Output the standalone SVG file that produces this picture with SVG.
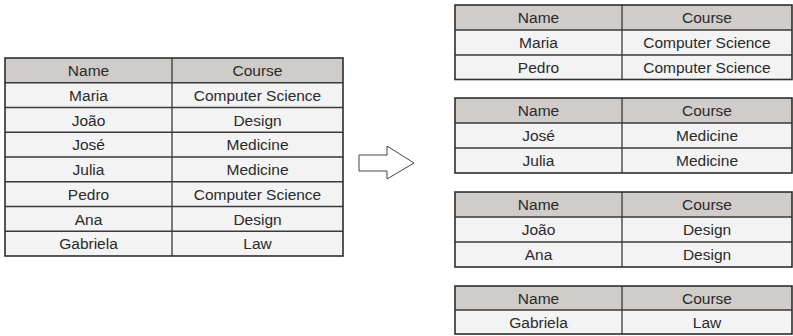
<svg xmlns="http://www.w3.org/2000/svg" width="793" height="336" viewBox="0 0 793 336">
  <style>
    .hdr { fill: #d0ccca; }
    .row { fill: #f3f3f3; }
    .grid { stroke: #3a3a3a; stroke-width: 1.3; fill: none; }
    .box { stroke: #2e2e2e; stroke-width: 1.6; fill: none; }
    text { font-family: "Liberation Sans", Arial, sans-serif; font-size: 15.5px; fill: #2a2a2a; text-anchor: middle; }
  </style>
  <rect width="793" height="336" fill="#ffffff"/>

  <!-- Source table: all students -->
  <g id="table-all">
    <rect class="row" x="5" y="58" width="338" height="198"/>
    <rect class="hdr" x="5" y="58" width="338" height="24.75"/>
    <path class="grid" d="M5 82.75H343M5 107.5H343M5 132.25H343M5 157H343M5 181.75H343M5 206.5H343M5 231.25H343M172 58V256"/>
    <rect class="box" x="5" y="58" width="338" height="198"/>
    <text x="88.5" y="76">Name</text><text x="257.5" y="76">Course</text>
    <text x="88.5" y="100.8">Maria</text><text x="257.5" y="100.8">Computer Science</text>
    <text x="88.5" y="125.5">João</text><text x="257.5" y="125.5">Design</text>
    <text x="88.5" y="150.3">José</text><text x="257.5" y="150.3">Medicine</text>
    <text x="88.5" y="175">Julia</text><text x="257.5" y="175">Medicine</text>
    <text x="88.5" y="199.8">Pedro</text><text x="257.5" y="199.8">Computer Science</text>
    <text x="88.5" y="224.5">Ana</text><text x="257.5" y="224.5">Design</text>
    <text x="88.5" y="249.3">Gabriela</text><text x="257.5" y="249.3">Law</text>
  </g>

  <!-- Grouping arrow -->
  <g id="connectors">
    <path d="M359 155H387V146L414 163L387 179V171H359Z" fill="#ffffff" stroke="#444" stroke-width="1"/>
  </g>

  <!-- Group: Computer Science -->
  <g id="table-cs">
    <rect class="row" x="455" y="5" width="337" height="74.5"/>
    <rect class="hdr" x="455" y="5" width="337" height="25"/>
    <path class="grid" d="M455 30H792M455 55H792M622 5V79.5"/>
    <rect class="box" x="455" y="5" width="337" height="74.5"/>
    <text x="538.5" y="23">Name</text><text x="707" y="23">Course</text>
    <text x="538.5" y="48">Maria</text><text x="707" y="48">Computer Science</text>
    <text x="538.5" y="72.5">Pedro</text><text x="707" y="72.5">Computer Science</text>
  </g>

  <!-- Group: Medicine -->
  <g id="table-medicine">
    <rect class="row" x="455" y="98" width="337" height="75"/>
    <rect class="hdr" x="455" y="98" width="337" height="25"/>
    <path class="grid" d="M455 123H792M455 148H792M622 98V173"/>
    <rect class="box" x="455" y="98" width="337" height="75"/>
    <text x="538.5" y="116">Name</text><text x="707" y="116">Course</text>
    <text x="538.5" y="141">José</text><text x="707" y="141">Medicine</text>
    <text x="538.5" y="166">Julia</text><text x="707" y="166">Medicine</text>
  </g>

  <!-- Group: Design -->
  <g id="table-design">
    <rect class="row" x="455" y="192" width="337" height="75"/>
    <rect class="hdr" x="455" y="192" width="337" height="25"/>
    <path class="grid" d="M455 217H792M455 242H792M622 192V267"/>
    <rect class="box" x="455" y="192" width="337" height="75"/>
    <text x="538.5" y="210">Name</text><text x="707" y="210">Course</text>
    <text x="538.5" y="235">João</text><text x="707" y="235">Design</text>
    <text x="538.5" y="260">Ana</text><text x="707" y="260">Design</text>
  </g>

  <!-- Group: Law -->
  <g id="table-law">
    <rect class="row" x="455" y="286" width="337" height="48"/>
    <rect class="hdr" x="455" y="286" width="337" height="24"/>
    <path class="grid" d="M455 310H792M622 286V334"/>
    <rect class="box" x="455" y="286" width="337" height="48"/>
    <text x="538.5" y="303.5">Name</text><text x="707" y="303.5">Course</text>
    <text x="538.5" y="328">Gabriela</text><text x="707" y="328">Law</text>
  </g>
</svg>
